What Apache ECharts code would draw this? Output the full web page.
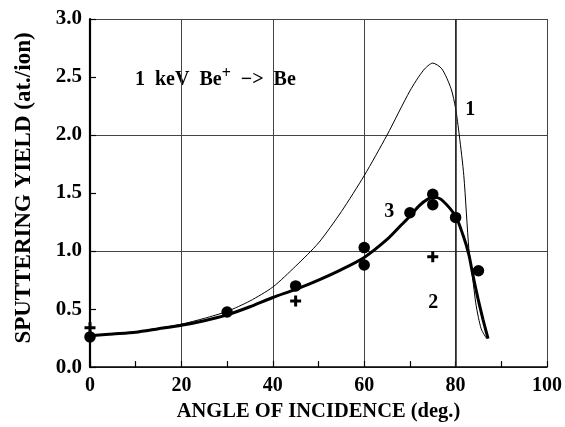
<!DOCTYPE html>
<html>
<head>
<meta charset="utf-8">
<script src="https://cdn.jsdelivr.net/npm/echarts@6/dist/echarts.min.js"></script>
<style>
html,body{margin:0;padding:0;background:#fff;}
#chart{width:565px;height:427px;}
</style>
</head>
<body>
<div id="chart"></div>
<script>
// ---- data ----
const xTickLabels = ['0', '20', '40', '60', '80', '100'];
const yTickLabels = ['0.0', '0.5', '1.0', '1.5', '2.0', '2.5', '3.0'];

// curve 1 (thin)
const curve1X = [0, 5, 10, 15, 20, 25, 30, 35, 40, 45, 50, 55, 60, 65, 70, 73, 75, 77, 79, 80, 80.8, 81.8, 82.9, 83.6, 84.5, 85.6, 86.8];
const curve1Y = [0.27, 0.285, 0.305, 0.335, 0.37, 0.42, 0.48, 0.57, 0.69, 0.87, 1.07, 1.34, 1.65, 2.0, 2.38, 2.56, 2.62, 2.57, 2.40, 2.23, 2.0, 1.65, 1.02, 0.81, 0.53, 0.33, 0.245];

// curve 3 (thick)
const curve3X = [0, 5, 10, 15, 20, 25, 30, 35, 40, 45, 50, 55, 60, 65, 68, 70, 72, 74, 75.4, 77, 80, 81.6, 82.9, 83.8, 84.9, 86, 87.1];
const curve3Y = [0.27, 0.285, 0.30, 0.33, 0.36, 0.40, 0.45, 0.52, 0.60, 0.67, 0.75, 0.84, 0.945, 1.10, 1.22, 1.30, 1.39, 1.45, 1.465, 1.44, 1.30, 1.14, 0.97, 0.79, 0.59, 0.41, 0.245];

// measured points (filled circles)
const dotX = [0, 30, 45, 60, 60, 70, 75, 75, 80, 85];
const dotY = [0.26, 0.475, 0.70, 1.03, 0.88, 1.33, 1.49, 1.40, 1.29, 0.83];

// curve 2 points (crosses)
const crossX = [0, 45, 75];
const crossY = [0.34, 0.57, 0.95];

// curve number labels
const curveLabelText = ['1', '2', '3'];
const curveLabelX = [83.2, 75.1, 65.5];
const curveLabelY = [2.22, 0.553, 1.34];

const xTitle = 'ANGLE OF INCIDENCE (deg.)';
const yTitle = 'SPUTTERING YIELD (at./ion)';

// ---- build ----
const zip = (a, b) => a.map((v, i) => [v, b[i]]);
const FONT = 'Liberation Serif';
const plusPath = 'path://M4,0h3v4h4v3h-4v4h-3v-4h-4v-3h4z';

const chart = echarts.init(document.getElementById('chart'), null, {renderer: 'canvas'});
const option = {
  animation: false,
  backgroundColor: '#fff',
  grid: {left: 90, right: 17, top: 19, bottom: 51, containLabel: false},
  xAxis: {
    type: 'value', min: 0, max: 100, interval: 20,
    axisLine: {show: true, onZero: false, lineStyle: {color: '#000', width: 1.6}},
    axisTick: {show: true, inside: true, length: 6, lineStyle: {color: '#000', width: 1.2}},
    minorTick: {show: true, splitNumber: 2, length: 6, lineStyle: {color: '#000', width: 1.2}},
    splitLine: {show: true, lineStyle: {color: '#444', width: 1}},
    axisLabel: {
      color: '#000', fontFamily: FONT, fontWeight: 'bold', fontSize: 20, margin: 9,
      formatter: v => xTickLabels[Math.round(v / 20)]
    },
    name: xTitle, nameLocation: 'middle', nameGap: 30,
    nameTextStyle: {color: '#000', fontFamily: FONT, fontWeight: 'bold', fontSize: 20.5}
  },
  yAxis: [{
    type: 'value', min: 0, max: 3, interval: 0.5,
    axisLine: {show: true, onZero: false, lineStyle: {color: '#000', width: 2.2}},
    axisTick: {show: true, inside: true, length: 6, lineStyle: {color: '#000', width: 1.2}},
    splitLine: {show: false},
    axisLabel: {
      color: '#000', fontFamily: FONT, fontWeight: 'bold', fontSize: 21, margin: 8,
      formatter: v => yTickLabels[Math.round(v / 0.5)]
    }
  }, {
    type: 'value', min: 0, max: 3, interval: 1, position: 'left',
    axisLine: {show: false}, axisTick: {show: false}, axisLabel: {show: false},
    splitLine: {show: true, lineStyle: {color: '#444', width: 1}}
  }],
  graphic: [{
    type: 'text', x: 24, y: 188, rotation: Math.PI / 2,
    style: {text: yTitle, fill: '#000', font: 'bold 23px "Liberation Serif"', align: 'center', verticalAlign: 'middle'}
  }, {
    type: 'text', x: 135, y: 78,
    style: {
      text: '{n|1  keV  Be}{s|+}{n|  \u2212>  Be}',
      align: 'left', verticalAlign: 'middle',
      rich: {
        n: {fontFamily: FONT, fontWeight: 'bold', fontSize: 20, fill: '#000', lineHeight: 24, verticalAlign: 'bottom'},
        s: {fontFamily: FONT, fontWeight: 'bold', fontSize: 16, fill: '#000', lineHeight: 24, verticalAlign: 'top'}
      }
    }
  }],
  series: [{
    type: 'line', name: '1', data: zip(curve1X, curve1Y), showSymbol: false, symbol: 'none',
    smooth: 0.25, lineStyle: {color: '#000', width: 1}, z: 3,
    markLine: {
      silent: true, symbol: 'none', label: {show: false},
      lineStyle: {color: '#222', width: 1.5, type: 'solid'},
      data: [{xAxis: 80}]
    }
  }, {
    type: 'line', name: '3', data: zip(curve3X, curve3Y), showSymbol: false, symbol: 'none',
    smooth: 0.25, lineStyle: {color: '#000', width: 3}, z: 4
  }, {
    type: 'scatter', name: 'exp', data: zip(dotX, dotY), symbol: 'circle', symbolSize: 11.5,
    itemStyle: {color: '#000', opacity: 1}, z: 5
  }, {
    type: 'scatter', name: '2', data: zip(crossX, crossY), symbol: plusPath, symbolSize: 11,
    itemStyle: {color: '#000', opacity: 1}, z: 5
  }, {
    type: 'scatter', name: 'labels', data: curveLabelX.map((x, i) => ({value: [x, curveLabelY[i]], name: curveLabelText[i]})),
    symbolSize: 0, z: 6, itemStyle: {opacity: 1},
    label: {show: true, position: 'inside', formatter: p => p.name, color: '#000', opacity: 1, fontFamily: FONT, fontWeight: 'bold', fontSize: 20}
  }]
};
chart.setOption(option);
</script>
</body>
</html>
